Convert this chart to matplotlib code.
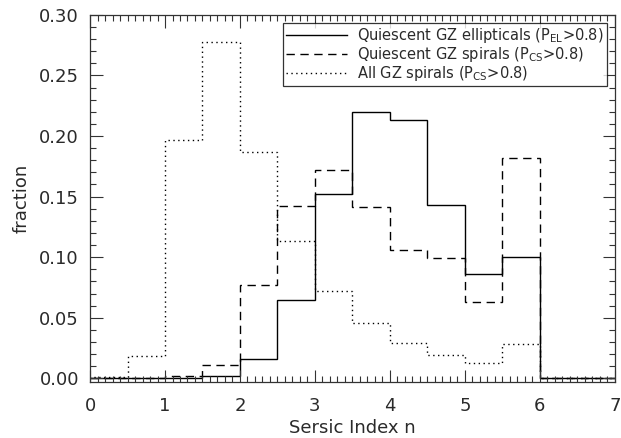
import numpy as np
import matplotlib
matplotlib.use("Agg")
import matplotlib.pyplot as plt
from matplotlib.ticker import MultipleLocator

# bin edges in Sersic index n (0.5 wide)
bin_edges = np.arange(0.0, 7.01, 0.5)

# fractions per bin (14 bins, 0-7)
ell_frac = [0.0, 0.0, 0.0, 0.002, 0.016, 0.065, 0.152, 0.220,
            0.213, 0.143, 0.086, 0.100, 0.0, 0.0]
qsp_frac = [0.0, 0.0, 0.002, 0.011, 0.077, 0.142, 0.172, 0.141,
            0.106, 0.099, 0.063, 0.182, 0.0, 0.0]
all_frac = [0.001, 0.018, 0.197, 0.278, 0.187, 0.113, 0.072, 0.046,
            0.029, 0.019, 0.013, 0.028, 0.0, 0.0]

labels = [r"Quiescent GZ ellipticals (P$_{\rm EL}$>0.8)",
          r"Quiescent GZ spirals (P$_{\rm CS}$>0.8)",
          r"All GZ spirals (P$_{\rm CS}$>0.8)"]

plt.rcParams["font.family"] = "DejaVu Sans"
plt.rcParams["mathtext.fontset"] = "dejavusans"
txt_color = "#2a2a2a"

fig = plt.figure(figsize=(6.21, 4.38), dpi=100)
ax = fig.add_axes([0.145, 0.128, 0.845, 0.838])

ax.stairs(ell_frac, bin_edges, color="black", lw=1.0, ls="-", label=labels[0])
ax.stairs(qsp_frac, bin_edges, color="black", lw=1.0, ls=(0, (6, 4)), label=labels[1])
ax.stairs(all_frac, bin_edges, color="black", lw=1.0, ls=(0, (1, 2.5)), label=labels[2])

ax.set_xlim(0, 7)
ax.set_ylim(-0.003, 0.30)
ax.xaxis.set_major_locator(MultipleLocator(1))
ax.xaxis.set_minor_locator(MultipleLocator(0.1))
ax.yaxis.set_major_locator(MultipleLocator(0.05))
ax.yaxis.set_minor_locator(MultipleLocator(0.01))
ax.yaxis.set_major_formatter(matplotlib.ticker.FormatStrFormatter("%.2f"))
ax.tick_params(which="both", direction="in", top=True, right=True,
               labelsize=13, color="#333333", labelcolor=txt_color)
ax.tick_params(which="major", length=9, width=0.8)
ax.tick_params(axis="x", which="major", pad=11)
ax.tick_params(axis="y", which="major", pad=8)
ax.tick_params(which="minor", length=4, width=0.8)
for s in ax.spines.values():
    s.set_linewidth(0.9)
    s.set_color("#333333")

ax.set_xlabel("Sersic Index n", fontsize=13, color=txt_color, labelpad=3)
ax.set_ylabel("fraction", fontsize=13, labelpad=6, color=txt_color)

leg = ax.legend(loc="upper right", fontsize=10.5, frameon=True, fancybox=False,
                edgecolor="black", handlelength=4.2, handletextpad=0.7,
                borderpad=0.2, labelspacing=0.0, borderaxespad=0.55,
                labelcolor=txt_color)
leg.get_frame().set_linewidth(0.9)

fig.savefig("out.png", dpi=100)
